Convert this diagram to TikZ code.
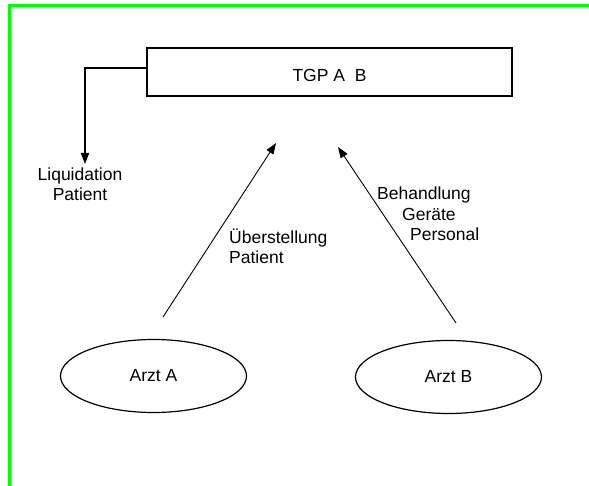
\documentclass[tikz,border=0pt]{standalone}
\usepackage{fontspec}
\setmainfont{Liberation Sans}
\usetikzlibrary{shapes.geometric,arrows.meta}
\definecolor{framegreen}{RGB}{0,255,0}

\begin{document}
\begin{tikzpicture}[x=1pt, y=-1pt,
    every node/.style={font=\fontsize{17.5}{20.5}\selectfont},
    box/.style={draw, rectangle, line width=2.5pt, minimum width=365pt, minimum height=48pt, inner sep=0pt},
    doc/.style={draw, ellipse, line width=1.2pt, minimum width=186pt, minimum height=73pt, inner sep=0pt},
    flow/.style={-{Triangle[length=11pt,width=8pt]}, line width=0.9pt},
    lbl/.style={inner sep=0pt}
]
\useasboundingbox (0,0) rectangle (589,486);

% green frame, top and left edge only
\draw[framegreen, line width=3pt] (589,5.5) -- (9.3,5.5) -- (9.3,486);

% the common practice
\node[box] (tgp) at (329.5,72) {};
\node[lbl, anchor=base] (tgptext) at (329.5,82) {TGP A\ \ B};

% the two doctors
\node[doc] (arztA) at (153.5,376) {Arzt A};
\node[doc] (arztB) at (448.5,377) {Arzt B};

% free ends of the connectors
\coordinate (liqout) at (146,68);
\coordinate (liqend) at (85,164);
\coordinate (aStart) at (163,317);
\coordinate (aEnd) at (276,143);
\coordinate (bStart) at (456,323);
\coordinate (bEnd) at (338,147);

% settlement back to the patient
\draw[flow, line width=1.8pt] (liqout) -| (liqend);
\node[lbl, align=center, anchor=base] (liq) at (80,201) {Liquidation\\Patient};

% transfers into the practice
\draw[flow] (aStart) -- (aEnd);
\draw[flow] (bStart) -- (bEnd);

\node[lbl, align=left, anchor=base west] (transfer) at (229,264) {Überstellung\\Patient};
\node[lbl, align=left, anchor=base west] (treat) at (377,241)
    {Behandlung\\\hspace*{25pt}Geräte\\\hspace*{33pt}Personal};

\end{tikzpicture}
\end{document}
